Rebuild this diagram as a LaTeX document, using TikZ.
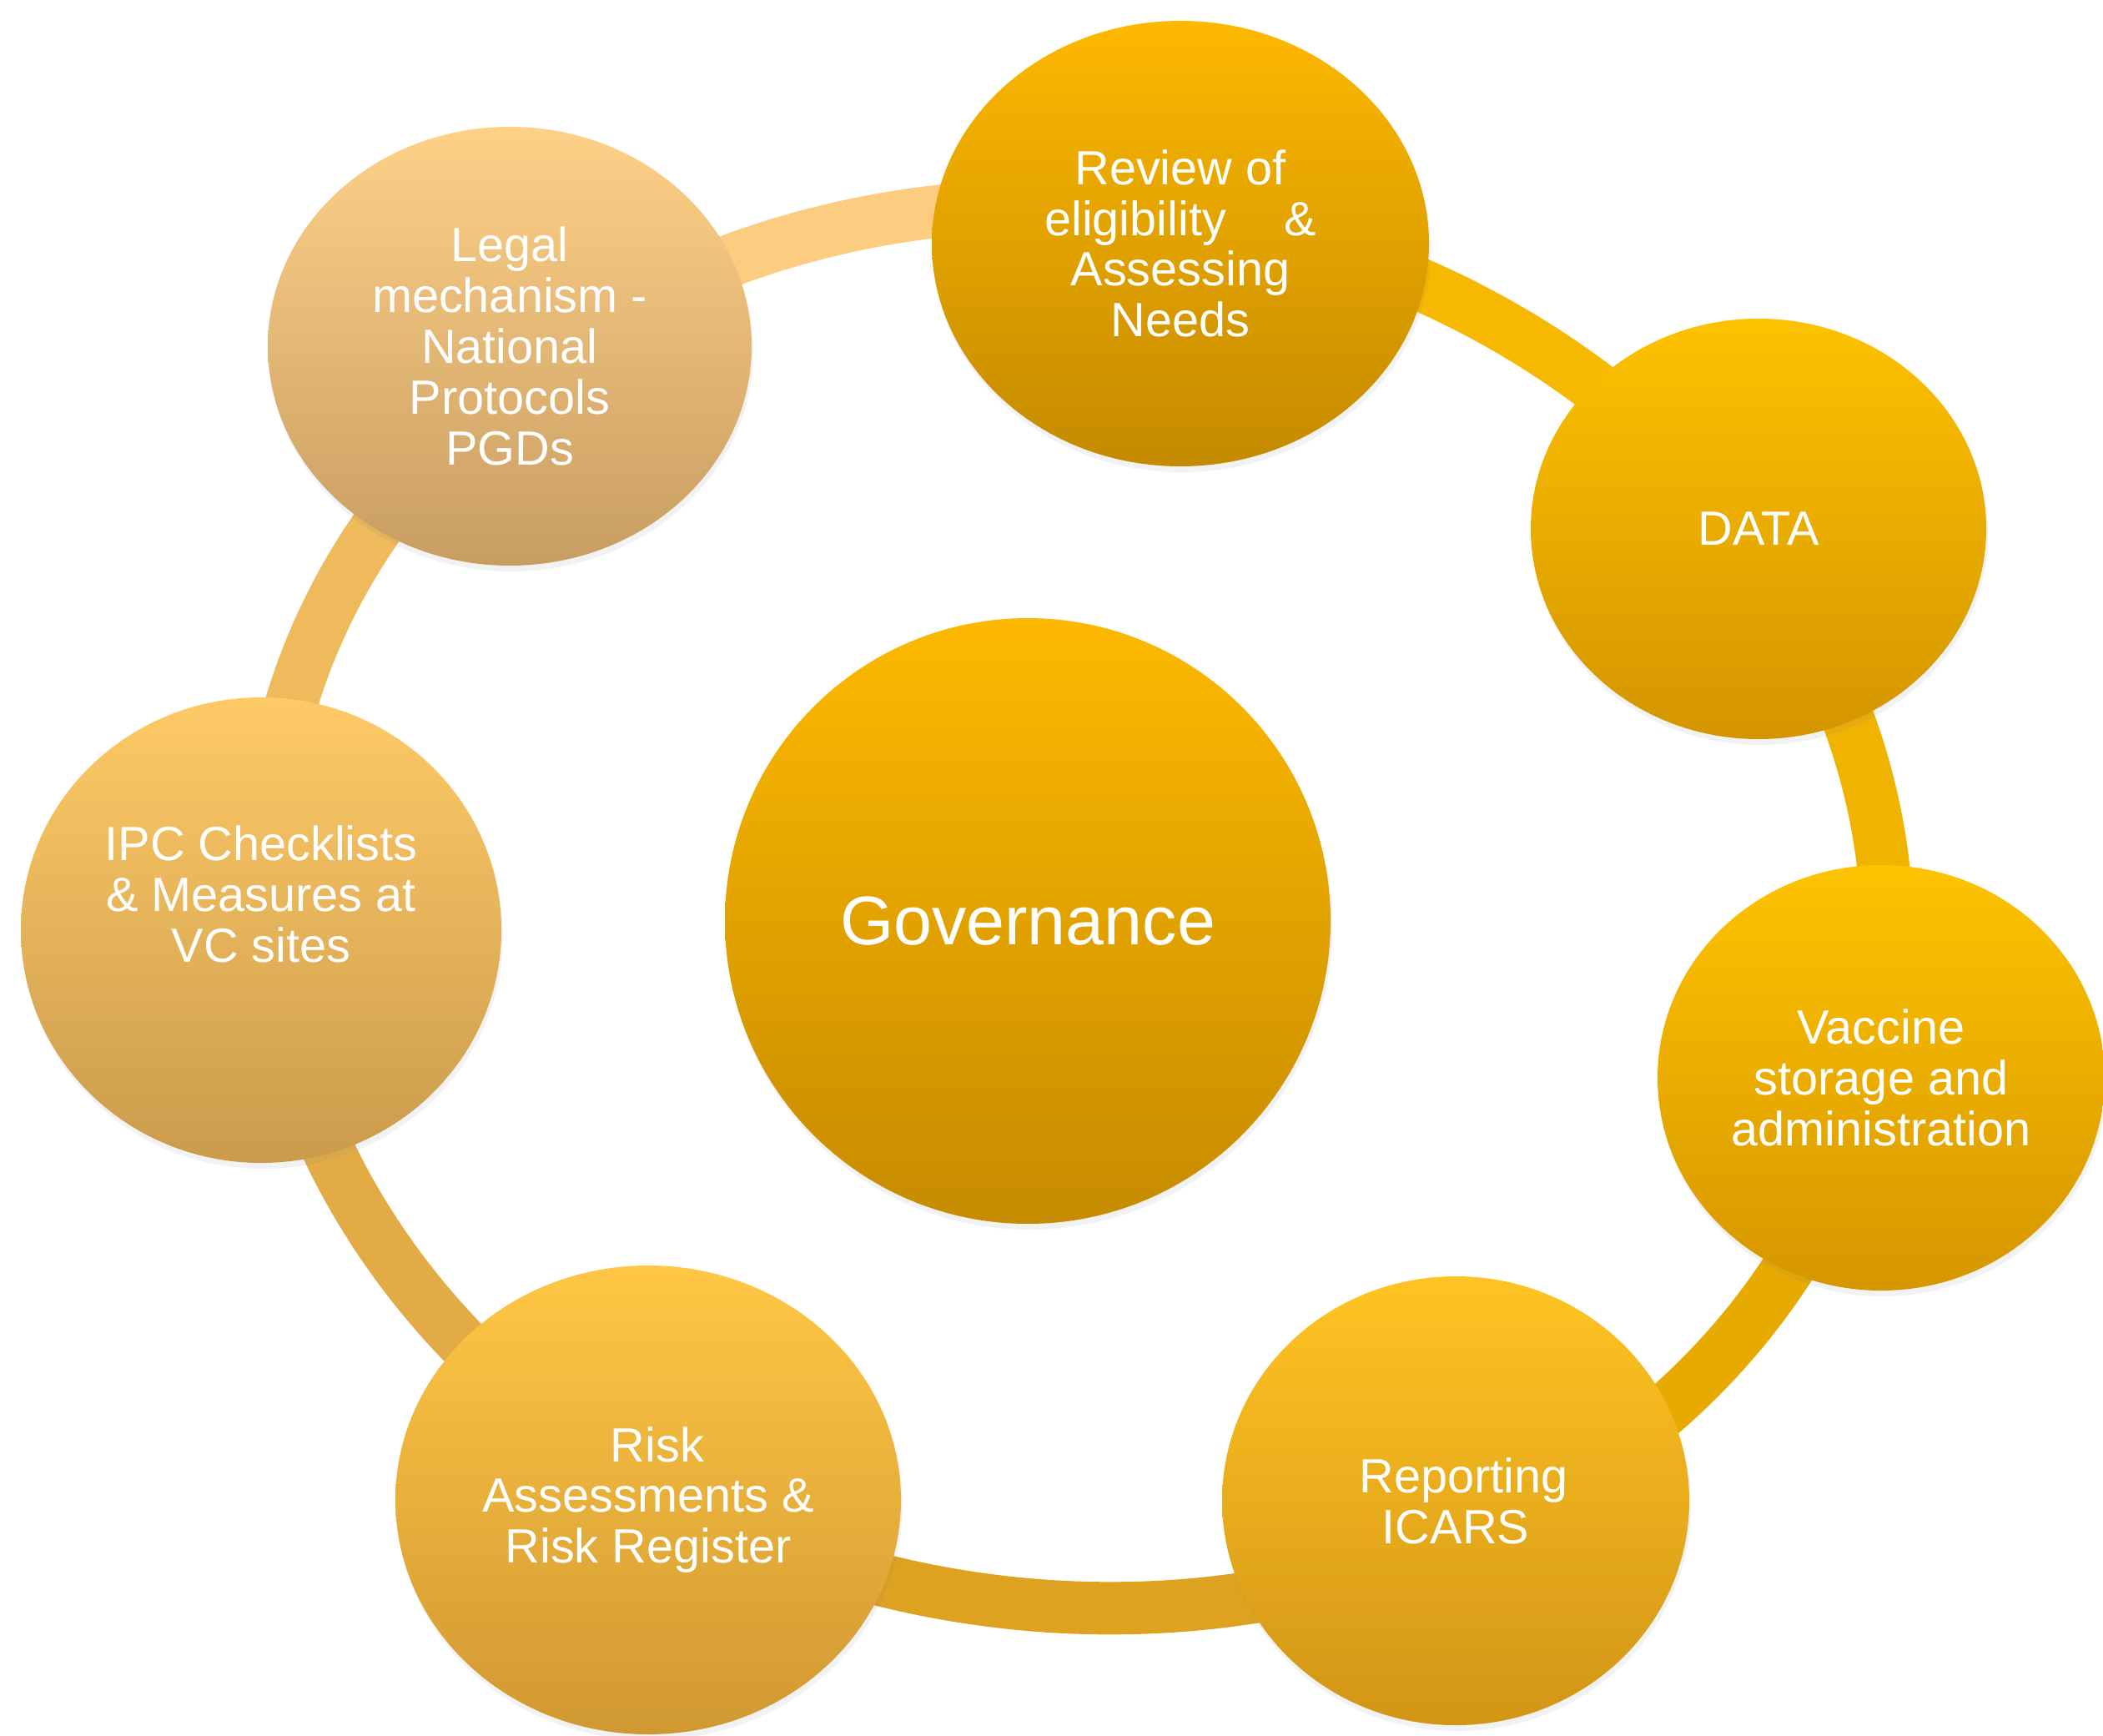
\documentclass[tikz,border=0pt]{standalone}
\usepackage{fontspec}
\setmainfont{Liberation Sans}
\usepackage{xcolor}
\usepackage{tikz}
\usetikzlibrary{shapes}
\usetikzlibrary{shadows}
\usetikzlibrary{positioning}
\usetikzlibrary{calc}

\definecolor{ringA}{HTML}{FCCC80}
\definecolor{ringB}{HTML}{EFBA5C}
\definecolor{ringC}{HTML}{E2AB45}
\definecolor{ringD}{HTML}{DDA21F}
\definecolor{ringE}{HTML}{E6AA00}
\definecolor{ringF}{HTML}{F0B300}
\definecolor{ringG}{HTML}{F6B800}

\tikzset{
  bubble/.style 2 args={ellipse, minimum width=#1, minimum height=#2, inner sep=0pt,
    align=center, text=white, font=\fontsize{16.4}{17.3}\selectfont,
    drop shadow={opacity=0.10, shadow xshift=0.2mm, shadow yshift=-0.7mm}},
  ring/.style={line width=0.63cm, line cap=butt}
}

\begin{document}
\begin{tikzpicture}
  \useasboundingbox (0,0) rectangle (25.21,20.80);
  \fill[white] (0,0) rectangle (25.21,20.80);
  \begin{scope}[shift={(12.905,9.93)}, rotate=-8]
    \foreach \a/\b/\c in {88.6/139.1/ringA, 139.1/191/ringB, 191/245.8/ringC,
                          245.8/307.3/ringD, 307.3/355.6/ringE, -4.4/40.5/ringF, 40.5/88.6/ringG}
      \draw[ring, color=\c] (\a:9.745 and 8.38) arc[start angle=\a, end angle=\b, x radius=9.745, y radius=8.38];
  \end{scope}
  \node[bubble={7.26cm}{7.26cm}, top color={rgb,255:red,253;green,185;blue,0}, bottom color={rgb,255:red,198;green,139;blue,0},
        font=\fontsize{23.5}{27}\selectfont] (gov) at (12.32,9.76) {Governance};
  \node[bubble={5.96cm}{5.34cm}, top color={rgb,255:red,253;green,184;blue,0}, bottom color={rgb,255:red,196;green,138;blue,0}] (review) at (14.15,17.88)
    {Review of\\eligibility\hspace{1.2em}\&\\Assessing\\Needs};
  \node[bubble={5.46cm}{5.04cm}, top color={rgb,255:red,253;green,194;blue,0}, bottom color={rgb,255:red,212;green,149;blue,0}] (data) at (21.08,14.46)
    {DATA};
  \node[bubble={5.36cm}{5.10cm}, top color={rgb,255:red,254;green,195;blue,0}, bottom color={rgb,255:red,214;green,150;blue,0}] (vaccine) at (22.55,7.88)
    {Vaccine\\storage and\\administration};
  \node[bubble={5.60cm}{5.38cm}, top color={rgb,255:red,255;green,196;blue,35}, bottom color={rgb,255:red,210;green,149;blue,22}] (report) at (17.45,2.81)
    {\hspace*{0.33em}Reporting\\ICARS};
  \node[bubble={6.06cm}{5.62cm}, top color={rgb,255:red,255;green,199;blue,68}, bottom color={rgb,255:red,208;green,152;blue,50}] (risk) at (7.77,2.82)
    {\hspace*{0.38em}Risk\\Assessments \&\\Risk Register};
  \node[bubble={5.76cm}{5.58cm}, top color={rgb,255:red,254;green,202;blue,102}, bottom color={rgb,255:red,203;green,155;blue,77},
        label={[yshift=4.3mm, text=white, align=center, font=\fontsize{16.4}{17.3}\selectfont]center:{IPC Checklists\\\& Measures at\\VC sites}}] (ipc) at (3.13,9.65) {};
  \node[bubble={5.80cm}{5.26cm}, top color={rgb,255:red,254;green,209;blue,136}, bottom color={rgb,255:red,200;green,157;blue,98}] (legal) at (6.11,16.65)
    {Legal\\mechanism -\\National\\Protocols\\PGDs};
\end{tikzpicture}
\end{document}
